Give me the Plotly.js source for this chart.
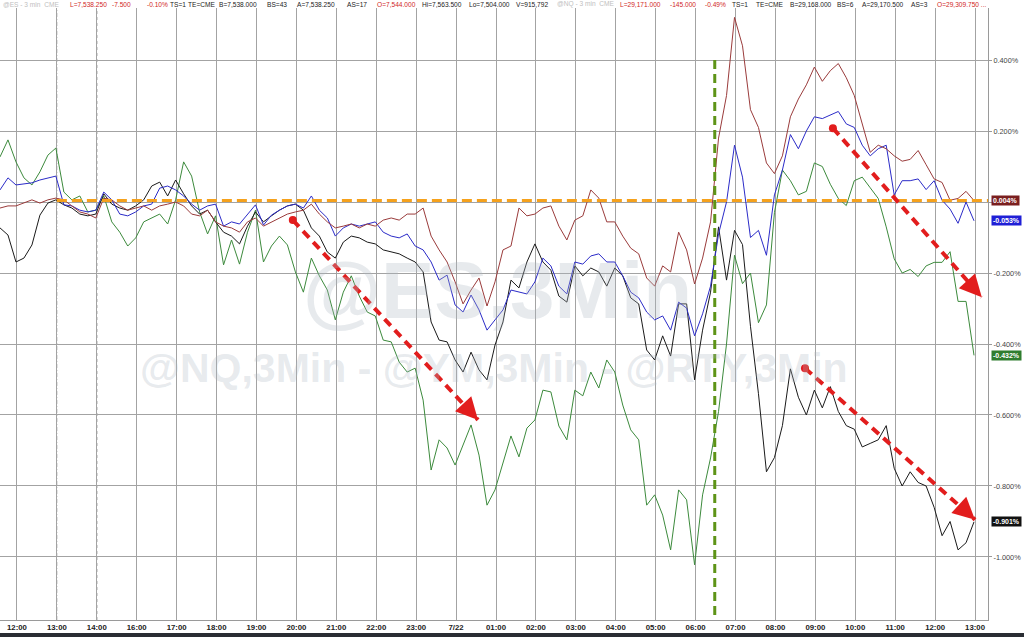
<!DOCTYPE html>
<html>
<head>
<meta charset="utf-8">
<script src="https://cdn.plot.ly/plotly-3.0.1.min.js"></script>
<style>
  html, body { margin: 0; padding: 0; background: #ffffff; }
  #chart { width: 1024px; height: 637px; }
</style>
</head>
<body>
<div id="chart"></div>
<script>
// ---- axis labels (one slot per label, 14:00 -> 16:00 is a session break) ----
const xLabels = ['12:00','13:00','14:00','16:00','17:00','18:00','19:00','20:00','21:00','22:00','23:00','7/22','01:00','02:00','03:00','04:00','05:00','06:00','07:00','08:00','09:00','10:00','11:00','12:00','13:00'];
const yTickVals = [0.4, 0.2, 0, -0.2, -0.4, -0.6, -0.8, -1.0];
const yTickText = ['0.400%', '0.200%', '', '-0.200%', '-0.400%', '-0.600%', '-0.800%', '-1.000%'];

// sampling grid of the bars (slot units, one slot = one hour label)
const firstSlot = -0.425;
const slotStep = 0.2;

// ---- series (% change) ----
const nqPct = [
  -0.017,-0.011,-0.011,-0.003,0.006,-0.003,0.006,0.011,
  0.006,-0.011,-0.028,-0.034,-0.045,0.011,0.006,-0.011,-0.023,-0.017,-0.011,-0.023,-0.011,-0.006,0,-0.011,-0.034,-0.039,-0.023,-0.056,-0.068,-0.073,-0.085,-0.056,
  -0.045,-0.068,-0.056,-0.045,-0.034,-0.028,-0.023,-0.006,-0.034,-0.056,-0.073,-0.068,-0.062,-0.073,-0.062,-0.068,-0.051,-0.045,-0.051,-0.034,-0.034,-0.017,-0.096,-0.135,-0.169,-0.225,-0.287,-0.248,-0.214,-0.293,
  -0.225,-0.135,-0.124,-0.017,-0.039,-0.034,-0.017,-0.011,-0.068,-0.107,-0.051,-0.039,0.034,0.011,-0.056,-0.056,-0.096,-0.13,-0.146,-0.214,-0.237,-0.18,-0.197,-0.085,-0.135,-0.231,-0.158,-0.056,
  0.18,0.30,0.52,0.44,0.26,0.21,0.11,0.08,0.13,0.24,0.29,0.33,0.38,0.34,0.37,0.39,0.35,0.30,0.22,0.14,0.16,0.15,0.13,0.115,0.12,0.145,0.105,0.065,0.055,0.005,0.01,0.03,0.004
];
const esPct = [
  0.034,0.068,0.048,0.051,0.054,0.062,0.068,0.073,
  -0.008,-0.011,-0.023,-0.028,-0.023,0.028,0.006,-0.034,-0.039,-0.028,-0.011,-0.006,0.039,0.045,0.034,0.017,-0.006,-0.023,-0.011,-0.006,-0.068,-0.056,-0.062,-0.034,
  -0.008,-0.065,-0.037,-0.023,-0.011,-0.006,-0.017,0.017,-0.023,-0.045,-0.096,-0.073,-0.062,-0.068,-0.062,-0.056,-0.085,-0.096,-0.101,-0.09,-0.124,-0.135,-0.169,-0.22,-0.206,-0.29,-0.31,-0.262,-0.304,-0.361,
  -0.332,-0.304,-0.248,-0.254,-0.259,-0.225,-0.158,-0.18,-0.237,-0.259,-0.169,-0.175,-0.152,-0.146,-0.169,-0.169,-0.208,-0.254,-0.27,-0.31,-0.332,-0.321,-0.361,-0.282,-0.299,-0.377,-0.315,-0.237,
  -0.09,0.0,0.16,0.07,-0.10,-0.08,-0.15,0.02,0.09,0.19,0.15,0.20,0.24,0.235,0.245,0.255,0.22,0.21,0.16,0.13,0.15,0.16,0.02,0.06,0.06,0.065,0.035,0.06,0.005,-0.02,-0.06,0.0,-0.053
];
const rtyPct = [
  0.127,0.175,0.113,0.068,0.048,0.085,0.132,0.152,
  0.028,0.006,0.017,-0.028,-0.023,0.017,-0.056,-0.085,-0.124,-0.101,-0.056,-0.045,-0.034,-0.062,0.006,0.113,0.073,-0.028,-0.09,-0.039,-0.177,-0.107,-0.175,-0.085,
  -0.023,-0.169,-0.124,-0.096,-0.121,-0.197,-0.254,-0.158,-0.208,-0.248,-0.332,-0.254,-0.208,-0.265,-0.31,-0.321,-0.389,-0.394,-0.451,-0.479,-0.468,-0.558,-0.755,-0.67,-0.693,-0.741,-0.685,-0.628,-0.713,-0.854,
  -0.811,-0.732,-0.659,-0.718,-0.637,-0.614,-0.53,-0.535,-0.631,-0.67,-0.53,-0.546,-0.479,-0.524,-0.445,-0.479,-0.572,-0.642,-0.67,-0.854,-0.825,-0.882,-0.98,-0.811,-0.839,-1.022,-0.825,-0.721,
  -0.59,-0.40,-0.15,-0.23,-0.20,-0.34,-0.29,-0.03,0.09,0.06,0.02,0.03,0.11,0.10,0.05,0.01,-0.01,0.06,0.07,0.04,0.01,-0.07,-0.16,-0.20,-0.19,-0.21,-0.18,-0.17,-0.17,-0.14,-0.28,-0.28,-0.432
];
const ymPct = [
  -0.073,-0.093,-0.169,-0.158,-0.121,-0.037,-0.003,0.006,
  -0.008,-0.017,-0.034,-0.039,-0.034,0.023,-0.006,-0.017,-0.023,-0.011,0.006,0.045,0.056,0.017,0.062,0.023,-0.011,-0.034,-0.023,-0.056,-0.085,-0.096,-0.118,-0.068,
  -0.028,-0.056,-0.039,-0.023,-0.011,-0.006,-0.023,-0.073,-0.096,-0.141,-0.158,-0.113,-0.096,-0.101,-0.113,-0.118,-0.135,-0.141,-0.146,-0.158,-0.169,-0.197,-0.338,-0.389,-0.394,-0.445,-0.479,-0.423,-0.473,-0.501,
  -0.403,-0.338,-0.22,-0.242,-0.169,-0.118,-0.169,-0.192,-0.265,-0.282,-0.18,-0.208,-0.186,-0.197,-0.237,-0.186,-0.208,-0.27,-0.287,-0.417,-0.445,-0.377,-0.434,-0.287,-0.287,-0.501,-0.361,-0.254,
  -0.07,-0.22,-0.08,-0.12,-0.35,-0.54,-0.76,-0.72,-0.63,-0.47,-0.55,-0.60,-0.53,-0.58,-0.52,-0.59,-0.63,-0.64,-0.69,-0.68,-0.67,-0.63,-0.75,-0.80,-0.76,-0.79,-0.80,-0.86,-0.94,-0.90,-0.98,-0.96,-0.901
];

const seriesNames = ['@RTY', '@YM', '@ES', '@NQ'];
const seriesColors = ['#3c8a3c', '#1a1a1a', '#2b2bc8', '#9a3b3b'];
const seriesData = [rtyPct, ymPct, esPct, nqPct];
const lastLabels = ['-0.432%', '-0.901%', '-0.053%', '0.004%'];
const labelBg = ['#2f7d2f', '#111111', '#1f1fd6', '#7a1f1f'];

const times = nqPct.map((_, i) => +(firstSlot + i * slotStep).toFixed(3));

const traces = seriesData.map((vals, k) => ({
  type: 'scatter', mode: 'lines', name: seriesNames[k],
  x: times, y: vals,
  line: { color: seriesColors[k], width: 1 },
  hoverinfo: 'skip', showlegend: false
}));

const FONT = 'Arial, "Liberation Sans", sans-serif';
const xMin = -0.425, xMax = 24.325, yMin = -1.1775, yMax = 0.5465;

// header ticker strip
const header = [
  ['@ES - 3 min  CME', '#c0c0c0', 1],
  ['L=7,538.250', '#d11f27', 68], ['-7.500', '#d11f27', 110], ['-0.10%', '#d11f27', 145],
  ['TS=1', '#222', 168], ['TE=CME', '#222', 186], ['B=7,538.000', '#222', 217], ['BS=43', '#222', 265],
  ['A=7,538.250', '#222', 295], ['AS=17', '#222', 345], ['O=7,544.000', '#d11f27', 375],
  ['Hi=7,563.500', '#222', 420], ['Lo=7,504.000', '#222', 467], ['V=915,792', '#222', 514],
  ['@NQ - 3 min  CME', '#c0c0c0', 555],
  ['L=29,171.000', '#d11f27', 618], ['-145.000', '#d11f27', 668], ['-0.49%', '#d11f27', 703],
  ['TS=1', '#222', 730], ['TE=CME', '#222', 754], ['B=29,168.000', '#222', 788], ['BS=6', '#222', 835],
  ['A=29,170.500', '#222', 860], ['AS=3', '#222', 909], ['O=29,309.750 ...', '#d11f27', 935]
];
const PLOT_W = 988, PLOT_H = 612;

const annotations = [];
header.forEach(([txt, col, px]) => {
  annotations.push({
    xref: 'paper', yref: 'paper', x: px / PLOT_W, y: 1 + 4 / PLOT_H,
    xanchor: 'left', yanchor: 'middle', showarrow: false, text: txt,
    font: { family: FONT, size: 6.6, color: col }
  });
});
// watermarks
annotations.push({
  xref: 'paper', yref: 'paper', x: 497 / PLOT_W, y: (620 - 290) / PLOT_H,
  xanchor: 'center', yanchor: 'middle', showarrow: false, text: '<b>@ES,3Min</b>',
  font: { family: FONT, size: 80, color: 'rgba(175,185,195,0.30)' }
});
annotations.push({
  xref: 'paper', yref: 'paper', x: 494 / PLOT_W, y: (620 - 368) / PLOT_H,
  xanchor: 'center', yanchor: 'middle', showarrow: false, text: '<b>@NQ,3Min - @YM,3Min - @RTY,3Min</b>',
  font: { family: FONT, size: 41, color: 'rgba(175,185,195,0.30)' }
});
// last-value tags on the right axis
seriesData.forEach((vals, k) => {
  annotations.push({
    xref: 'paper', yref: 'y', x: 1.003, y: vals[vals.length - 1],
    xanchor: 'left', yanchor: 'middle', showarrow: false,
    text: '<b>' + lastLabels[k] + '</b>', bgcolor: labelBg[k], borderpad: 1,
    font: { family: FONT, size: 7, color: '#ffffff' }
  });
});

// red dashed trend arrows: [x0,y0,x1,y1, ax, ay]
const arrows = [
  [6.91, -0.051, 11.55, -0.614, -11, -12],
  [20.44, 0.208, 24.17, -0.268, -11, -12],
  [19.74, -0.468, 24.0, -0.895, -12, -11]
];
const RED = '#e21d1d';
const shapes = [
  // session-break dashed verticals replacing grid lines
  { type: 'line', xref: 'x', yref: 'paper', x0: 1, x1: 1, y0: 0, y1: 1, layer: 'below', line: { color: '#ffffff', width: 2 } },
  { type: 'line', xref: 'x', yref: 'paper', x0: 1, x1: 1, y0: 0, y1: 1, layer: 'below', line: { color: '#b5b5b5', width: 1, dash: '4px,2px,1px,2px' } },
  { type: 'line', xref: 'x', yref: 'paper', x0: 2, x1: 2, y0: 0, y1: 1, layer: 'below', line: { color: '#ffffff', width: 2 } },
  { type: 'line', xref: 'x', yref: 'paper', x0: 2, x1: 2, y0: 0, y1: 1, layer: 'below', line: { color: '#777777', width: 1, dash: '3px,3px' } },
  // orange reference line
  { type: 'line', xref: 'x', yref: 'y', x0: 1, x1: xMax, y0: 0.004, y1: 0.004, line: { color: '#f5a11c', width: 3, dash: '10px,5px' } },
  // green session-open line
  { type: 'line', xref: 'x', yref: 'y', x0: 17.48, x1: 17.48, y0: 0.4, y1: yMin, line: { color: '#5e9417', width: 3, dash: '9px,5px' } },
  // bottom dark bar
  { type: 'rect', xref: 'paper', yref: 'paper', x0: 0, x1: 1024 / PLOT_W, y0: -13 / PLOT_H, y1: -17 / PLOT_H, line: { width: 0 }, fillcolor: '#2a2d33' }
];
arrows.forEach(([x0, y0, x1, y1]) => {
  shapes.push({ type: 'line', xref: 'x', yref: 'y', x0, y0, x1, y1, line: { color: RED, width: 4, dash: '9px,6px' } });
  shapes.push({ type: 'circle', xref: 'x', yref: 'y', xsizemode: 'pixel', ysizemode: 'pixel',
    xanchor: x0, yanchor: y0, x0: -4, x1: 4, y0: -4, y1: 4, fillcolor: RED, line: { width: 0 } });
});
arrows.forEach(([x0, y0, x1, y1, ax, ay]) => {
  annotations.push({ xref: 'x', yref: 'y', x: x1, y: y1, ax, ay, text: '', showarrow: true,
    arrowhead: 2, arrowsize: 1.1, arrowwidth: 4, arrowcolor: RED });
});

const layout = {
  width: 1024, height: 637,
  margin: { l: 0, r: 36, t: 8, b: 17, pad: 0 },
  paper_bgcolor: '#ffffff', plot_bgcolor: '#ffffff',
  showlegend: false,
  font: { family: FONT, color: '#333' },
  xaxis: {
    range: [xMin, xMax], tickmode: 'array', tickvals: xLabels.map((_, i) => i), ticktext: xLabels,
    showgrid: true, gridcolor: '#a3a3a3', gridwidth: 1, zeroline: false,
    showline: true, linecolor: '#9a9a9a', linewidth: 1, ticks: '',
    tickfont: { family: FONT, size: 7.8, color: '#222', weight: 'bold' }, fixedrange: true
  },
  yaxis: {
    range: [yMin, yMax], side: 'right', tickmode: 'array', tickvals: yTickVals, ticktext: yTickText,
    showgrid: true, gridcolor: '#a3a3a3', gridwidth: 1, zeroline: false,
    showline: true, linecolor: '#9a9a9a', linewidth: 1, ticks: 'outside', ticklen: 3, tickcolor: '#999',
    tickfont: { family: FONT, size: 7.3, color: '#444' }, fixedrange: true
  },
  shapes, annotations
};

Plotly.newPlot('chart', traces, layout, { staticPlot: true, displayModeBar: false });
</script>
</body>
</html>
